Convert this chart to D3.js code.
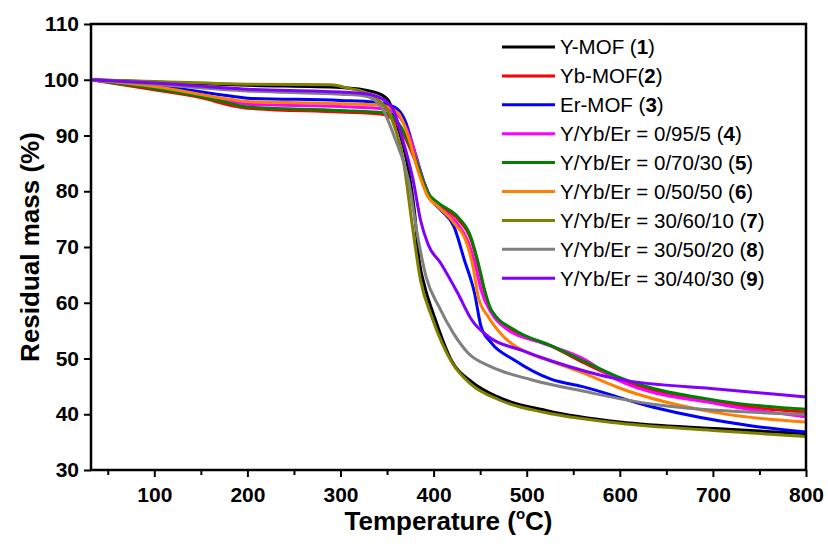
<!DOCTYPE html>
<html>
<head>
<meta charset="utf-8">
<script src="https://cdn.jsdelivr.net/npm/d3@7"></script>
<style>
body{margin:0;background:#fff;}
text{font-family:"Liberation Sans",Arial,sans-serif;}
</style>
</head>
<body>
<div id="chart"></div>
<script>
//data: [temperature (C), residual mass (%)]
var yMOF=[[32,100],[100,99.6],[200,99.0],[300,98.6],[336,97.8],[351,96.4],[359,92.8],[373,83.8],[379,77],[385,67],[390,63.2],[401,57.4],[419,49.7],[441,45.8],[469,43.1],[523,40.6],[600,38.6],[707,37.4],[800,36.5]];
var ybMOF=[[32,100],[100,98.2],[150,96.8],[185,95.3],[200,94.9],[300,94.2],[345,93.8],[352,93.4],[365,91],[380,85.6],[394,79.2],[405,77.5],[426,75],[440,71.4],[449,66],[454,62.4],[462,58.3],[487,54.8],[523,52.5],[563,49.1],[598,46.4],[707,42],[800,40.4]];
var erMOF=[[32,100],[100,99],[185,97],[200,96.7],[300,96.3],[336,96],[358,95.1],[369,92.8],[380,86.9],[390,81.5],[398,78.4],[408,76.6],[422,73.6],[433,67.7],[444,61.7],[451,55.7],[462,52.8],[487,49.7],[526,46.3],[559,45],[635,41.3],[742,37.9],[800,36.8]];
var s4=[[32,100],[100,98.6],[185,96],[200,95.6],[300,95.2],[345,94.8],[362,93.6],[375,89.5],[385,84],[396,78.8],[407,77],[424,74.5],[438,70.5],[446,66],[451,62.3],[462,58.2],[480,55.1],[516,52.8],[559,50.1],[598,46.1],[707,41.8],[800,39.5]];
var s5=[[32,100],[100,98.4],[150,97],[185,95.6],[200,95.1],[300,94.5],[351,94],[365,91.5],[380,86.1],[394,79.7],[405,77.9],[426,75.4],[440,71.8],[449,66.4],[454,62.8],[462,58.7],[487,55.1],[526,52.3],[563,49.4],[598,46.7],[707,42.4],[800,40.9]];
var s6=[[32,100],[100,98.8],[185,96.4],[200,96.1],[300,95.7],[344,95.4],[362,94],[373,89.7],[383,83.8],[394,79],[405,77.2],[422,74.3],[437,70],[443,65.9],[448,61],[459,57.4],[473,54.3],[505,50.8],[526,49.5],[559,47.5],[598,44.8],[707,40.2],[800,38.6]];
var s7=[[32,100],[100,99.7],[200,99.2],[290,99.1],[308,98.5],[325,97.8],[340,96.5],[355,93],[368,85],[377,74],[386,64],[398,57.5],[420,49.2],[440,45.4],[470,42.6],[520,40.3],[600,38.4],[700,37.1],[800,36.0]];
var s8=[[32,100],[100,99.2],[200,98],[300,97.4],[326,97.1],[344,95.1],[358,89.7],[373,82],[383,71.8],[392,64.6],[406,59.2],[421,54.6],[437,51],[462,48.5],[505,46.2],[559,44.2],[635,41.8],[800,40.0]];
var s9=[[32,100],[100,99.4],[200,98.3],[300,97.8],[333,97.3],[355,95.1],[366,89.7],[378,82],[386,74.8],[394,70.5],[408,67],[426,61.7],[441,56.9],[459,53.9],[494,51.5],[526,49.6],[598,46.3],[707,44.5],[800,43.1]];

var allSeries=[yMOF,ybMOF,erMOF,s4,s5,s6,s7,s8,s9];
var names=["Y-MOF ","Yb-MOF","Er-MOF ","Y/Yb/Er = 0/95/5 ","Y/Yb/Er = 0/70/30 ","Y/Yb/Er = 0/50/50 ","Y/Yb/Er = 30/60/10 ","Y/Yb/Er = 30/50/20 ","Y/Yb/Er = 30/40/30 "];
var nums=["1","2","3","4","5","6","7","8","9"];
var colors=["#000000","#ff0000","#0000ff","#ff00ff","#008000","#ff8000","#808000","#808080","#8000ff"];

var xTicks=[100,200,300,400,500,600,700,800];
var xMinor=[50,150,250,350,450,550,650,750];
var yTicks=[30,40,50,60,70,80,90,100,110];

//size
var svgWidth=828;
var svgHeight=550;
var margin={top:24,right:22,bottom:80,left:91};
var width=svgWidth-margin.left-margin.right;
var height=svgHeight-margin.top-margin.bottom;

var svg=d3.select("#chart")
    .append("svg")
    .attr("width",svgWidth)
    .attr("height",svgHeight);

var chartGroup=svg.append("g")
    .attr("transform",`translate(${margin.left},${margin.top})`);

var xLinearScale=d3.scaleLinear().domain([32,800]).range([0,width]);
var yLinearScale=d3.scaleLinear().domain([30,110]).range([height,0]);

//minor x ticks
chartGroup.append("g")
    .attr("transform",`translate(0,${height})`)
    .call(d3.axisBottom(xLinearScale).tickValues(xMinor).tickSize(5).tickFormat(""))
    .call(g=>g.select(".domain").remove())
    .selectAll("line").attr("stroke-width",2);

var xAxis=chartGroup.append("g")
    .attr("transform",`translate(0,${height})`)
    .call(d3.axisBottom(xLinearScale).tickValues(xTicks).tickSize(7).tickPadding(10));
xAxis.select(".domain").remove();

var yAxis=chartGroup.append("g")
    .call(d3.axisLeft(yLinearScale).tickValues(yTicks).tickSize(7).tickPadding(5));
yAxis.select(".domain").remove();

chartGroup.selectAll(".tick line").attr("stroke-width",2);
chartGroup.selectAll(".tick text")
    .attr("font-size","21px")
    .attr("font-weight","bold")
    .attr("fill","#000");

//lines
var line=d3.line()
    .x(d=>xLinearScale(d[0]))
    .y(d=>yLinearScale(d[1]))
    .curve(d3.curveMonotoneX);

chartGroup.selectAll(".tga")
    .data(allSeries)
    .enter()
    .append("path")
    .attr("class","tga")
    .attr("d",d=>line(d))
    .attr("fill","none")
    .attr("stroke",(d,i)=>colors[i])
    .attr("stroke-width",3);

//frame
chartGroup.append("rect")
    .attr("width",width)
    .attr("height",height)
    .attr("fill","none")
    .attr("stroke","#000")
    .attr("stroke-width",2.5);

//legend
var legend=svg.append("g").attr("transform","translate(502,47)");
var rows=legend.selectAll("g")
    .data(names)
    .enter()
    .append("g")
    .attr("transform",(d,i)=>`translate(0,${i*28.9})`);
rows.append("line")
    .attr("x1",0).attr("x2",53)
    .attr("stroke",(d,i)=>colors[i])
    .attr("stroke-width",3);
var lt=rows.append("text")
    .attr("x",58)
    .attr("dy","0.36em")
    .attr("font-size","20.5px");
lt.append("tspan").text(d=>d+"(");
lt.append("tspan").attr("font-weight","bold").text((d,i)=>nums[i]);
lt.append("tspan").text(")");

//axis titles
var xTitle=svg.append("text")
    .attr("x",margin.left+width/2)
    .attr("y",530)
    .attr("text-anchor","middle")
    .attr("font-size","26px")
    .attr("font-weight","bold");
xTitle.append("tspan").text("Temperature (");
xTitle.append("tspan").attr("font-size","15px").attr("dy","-11").text("o");
xTitle.append("tspan").attr("dy","11").text("C)");

svg.append("text")
    .attr("transform",`translate(39,${margin.top+height/2}) rotate(-90)`)
    .attr("text-anchor","middle")
    .attr("font-size","26px")
    .attr("font-weight","bold")
    .text("Residual mass (%)");
</script>
</body>
</html>
